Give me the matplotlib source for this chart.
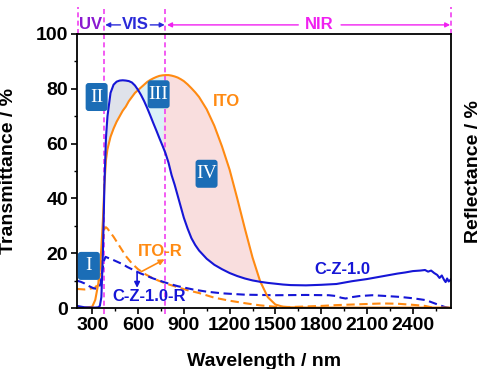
import matplotlib
matplotlib.use("Agg")
import matplotlib.pyplot as plt
import matplotlib.transforms as mtransforms
from matplotlib.patches import FancyBboxPatch
import numpy as np

plt.rcParams["font.family"] = ["Liberation Sans", "DejaVu Sans"]
plt.rcParams["font.weight"] = "bold"

BLUE = "#1616d6"
ORANGE = "#ff8a12"
MAGENTA = "#f040f0"
BOX = "#1b6db6"

# Transmittance spectra, sampled on a shared wavelength grid (nm, %)
wl_t = [200, 250, 300, 320, 340, 350, 360, 370, 380, 390, 400, 420, 440, 460,
        480, 500, 520, 540, 560, 580, 600, 620, 640, 660, 680, 700, 720, 740,
        760, 780, 800, 820, 840, 860, 880, 900, 925, 950, 975, 1000, 1050,
        1100, 1150, 1200, 1250, 1300, 1350, 1400, 1450, 1500, 1550, 1600,
        1700, 1800, 1900, 1950, 2000, 2050, 2100, 2150, 2200, 2250, 2300,
        2350, 2400, 2450, 2480, 2500, 2520, 2540, 2560, 2575, 2590, 2605,
        2615, 2625, 2635, 2650]
t_cz = [0.8, 0.3, 0.2, 0.2, 0.3, 0.8, 4, 20, 45, 62, 70, 78.5, 81.5, 82.6,
        83.0, 83.1, 83.0, 82.8, 82.3, 81.2, 79.6, 77.7, 75.5, 73.0, 70.3, 67.5,
        64.8, 62.0, 59.3, 56.5, 53.0, 48.5, 45.0, 41.0, 37.0, 33.0, 29.0, 25.5,
        23.0, 21.0, 18.0, 15.8, 14.2, 12.8, 11.7, 10.8, 10.1, 9.6, 9.2, 8.9,
        8.6, 8.4, 8.3, 8.5, 8.8, 9.3, 9.8, 10.2, 10.6, 11.1, 11.6, 12.1, 12.6,
        13.0, 13.5, 13.7, 13.9, 13.3, 13.7, 12.8, 12.1, 11.0, 11.9, 10.3, 9.5,
        10.8, 9.7, 10.5]
t_ito = [0.3, 0.2, 0.5, 3, 9, 14, 22, 32, 45, 54, 58, 62.5, 65.5, 68.0,
         70.0, 72.0, 73.5, 75.5, 77.0, 78.5, 79.5, 80.5, 81.5, 82.5, 83.2, 83.8,
         84.3, 84.7, 84.9, 85.0, 85.0, 84.8, 84.5, 84.1, 83.5, 82.8, 81.6, 80.2,
         78.7, 77.0, 72.5, 66.5, 59.0, 50.5, 40.0, 29.0, 18.5, 9.8, 4.0, 1.3,
         0.5, 0.3, 0.2, 0.2, 0.2, 0.2, 0.2, 0.2, 0.2, 0.2, 0.2, 0.2, 0.2,
         0.2, 0.2, 0.2, 0.2, 0.2, 0.2, 0.2, 0.2, 0.2, 0.2, 0.2,
         0.2, 0.2, 0.2, 0.2]

# Reflectance spectra (nm, %)
wl_r_ito = [200, 250, 300, 320, 340, 350, 360, 370, 380, 390, 400, 440, 480,
            520, 560, 600, 650, 700, 780, 850, 920, 1000, 1100, 1200, 1300,
            1400, 1500, 1600, 1700, 1800, 1900, 2000, 2100, 2200, 2300, 2400,
            2480, 2530, 2560, 2650]
r_ito = [7.0, 6.8, 7.2, 7.5, 9, 12, 18, 25, 29, 29.5, 29, 26, 22.5, 19, 16.3,
         14.2, 12.3, 10.8, 9.0, 7.8, 6.6, 5.5, 3.8, 2.7, 1.8, 1.0, 0.5, 0.4,
         0.6, 0.8, 1.1, 1.3, 1.5, 1.7, 1.6, 1.2, 0.8, 0.2, 0.0, 0.0]
wl_r_cz = [200, 225, 250, 280, 310, 340, 355, 365, 375, 387, 440, 500, 530,
           615, 700, 780, 860, 960, 1050, 1150, 1300, 1500, 1700, 1850, 1900,
           1930, 1960, 2000, 2050, 2135, 2200, 2313, 2400, 2487, 2530, 2574,
           2610, 2650]
r_cz = [10.0, 9.6, 9.0, 8.0, 7.2, 7.0, 9, 13, 17, 18.7, 17.5, 16.0, 15.0,
        12.7, 10.8, 9.3, 8.0, 6.8, 6.0, 5.4, 4.9, 4.7, 4.8, 4.7, 4.4, 3.8,
        3.5, 4.0, 4.4, 4.7, 4.5, 4.1, 3.6, 2.9, 2.0, 1.1, 0.4, 0.0]

# Spectral band boundaries (nm)
band_edges = [205, 380, 780, 2650]
region_labels = ["I", "II", "III", "IV"]
region_pos = [(278, 15.4), (329, 77), (735, 78), (1049, 49)]

fig = plt.figure(figsize=(4.87, 3.69), dpi=100)
ax = fig.add_axes([0.158, 0.165, 0.768, 0.743])

wl = np.array(wl_t)
tc = np.array(t_cz)
ti = np.array(t_ito)

# shaded regions between the two transmittance curves
ax.fill_between(wl, tc, ti, where=(wl >= 380) & (wl <= 600) & (tc >= ti),
                color="#dfe2ea", lw=0, interpolate=True)
ax.fill_between(wl, tc, ti, where=(wl >= 580) & (wl <= 780) & (ti >= tc),
                color="#daf1f7", lw=0, interpolate=True)
ax.fill_between(wl, tc, ti, where=(wl >= 780) & (wl <= 1450) & (ti >= tc),
                color="#f9dede", lw=0, interpolate=True)

ax.plot(wl_r_ito, r_ito, color=ORANGE, lw=1.5, ls=(0, (4, 2.2)))
ax.plot(wl_r_cz, r_cz, color=BLUE, lw=1.5, ls=(0, (4, 2.2)))
ax.plot(wl, ti, color=ORANGE, lw=1.5)
ax.plot(wl, tc, color=BLUE, lw=1.5)

ax.set_xlim(200, 2650)
ax.set_ylim(0, 100)
ax.set_xticks(np.arange(300, 2401, 300))
ax.set_xticks(np.arange(450, 2651, 300), minor=True)
ax.set_yticks(np.arange(0, 101, 20))
ax.set_yticks(np.arange(10, 100, 20), minor=True)
ax.tick_params(axis="both", which="major", direction="out", length=4.5,
               width=1.2, labelsize=14, pad=2)
ax.tick_params(axis="both", which="minor", direction="out", length=2.5,
               width=1.0)
for lbl in ax.get_xticklabels() + ax.get_yticklabels():
    lbl.set_fontweight("bold")
for sp in ax.spines.values():
    sp.set_linewidth(1.3)

ax.set_xlabel("Wavelength / nm", fontsize=14, fontweight="bold")
ax.xaxis.set_label_coords(0.5, -0.165)
ax.set_ylabel("Transmittance / %", fontsize=14, fontweight="bold")
ax.yaxis.set_label_coords(-0.16, 0.5)
fig.text(0.973, 0.535, "Reflectance / %", rotation=90, fontsize=14,
         fontweight="bold", ha="center", va="center")

# band boundaries
for x in band_edges[1:3]:
    ax.plot([x, x], [-2, 110], color=MAGENTA, lw=1.2, ls=(0, (3, 2)),
            clip_on=False, zorder=1)
for x in (band_edges[0], band_edges[3]):
    ax.plot([x, x], [100, 110], color=MAGENTA, lw=1.2, ls=(0, (3, 2)),
            clip_on=False)

ytop = 103.3
ax.text(290, ytop, "UV", color="#8a1ad0", fontsize=12, fontweight="bold",
        ha="center", va="center", clip_on=False)
ax.text(580, ytop, "VIS", color="#2a2ad8", fontsize=12, fontweight="bold",
        ha="center", va="center", clip_on=False)
arrow_vis = dict(arrowstyle="-|>", color="#2a2ad8", lw=1.0,
                 mutation_scale=7, shrinkA=0, shrinkB=0)
ax.annotate("", xy=(385, ytop), xytext=(485, ytop), arrowprops=arrow_vis,
            annotation_clip=False)
ax.annotate("", xy=(775, ytop), xytext=(680, ytop), arrowprops=arrow_vis,
            annotation_clip=False)
ax.text(1790, ytop, "NIR", color="#f020f0", fontsize=12, fontweight="bold",
        ha="center", va="center", clip_on=False)
arrow_nir = dict(arrowstyle="-|>", color="#f020f0", lw=1.0,
                 mutation_scale=7, shrinkA=0, shrinkB=0)
ax.annotate("", xy=(790, ytop), xytext=(1650, ytop), arrowprops=arrow_nir,
            annotation_clip=False)
ax.annotate("", xy=(2645, ytop), xytext=(1930, ytop), arrowprops=arrow_nir,
            annotation_clip=False)

# curve labels
ax.text(1180, 75.5, "ITO", color=ORANGE, fontsize=12, fontweight="bold",
        ha="center", va="center")
ax.text(1938, 14.2, "C-Z-1.0", color=BLUE, fontsize=12, fontweight="bold",
        ha="center", va="center")
ax.text(745, 20.8, "ITO-R", color=ORANGE, fontsize=12, fontweight="bold",
        ha="center", va="center")
ax.text(675, 4.1, "C-Z-1.0-R", color=BLUE, fontsize=12, fontweight="bold",
        ha="center", va="center")
ax.annotate("", xy=(774, 17.8), xytext=(622, 13.3),
            arrowprops=dict(arrowstyle="-|>", color=ORANGE, lw=1.2,
                            mutation_scale=8, shrinkA=0, shrinkB=0))
ax.annotate("", xy=(594, 7.4), xytext=(594, 13.0),
            arrowprops=dict(arrowstyle="-|>", color=BLUE, lw=1.2,
                            mutation_scale=8, shrinkA=0, shrinkB=0))

# region markers: fixed-size rounded boxes with serif numerals
fig.canvas.draw()
ident = mtransforms.IdentityTransform()
bw, bh = 22, 28
for lab, (x, y) in zip(region_labels, region_pos):
    cx, cy = ax.transData.transform((x, y))
    box = FancyBboxPatch((cx - bw / 2, cy - bh / 2), bw, bh,
                         boxstyle="round,pad=0,rounding_size=3",
                         fc=BOX, ec="none", transform=ident, zorder=5)
    fig.patches.append(box)
    fig.text(cx / fig.bbox.width, cy / fig.bbox.height, lab, color="white",
             fontsize=14, family="Liberation Serif", fontweight="normal",
             ha="center", va="center", zorder=6)

fig.savefig("out.png", dpi=100)
